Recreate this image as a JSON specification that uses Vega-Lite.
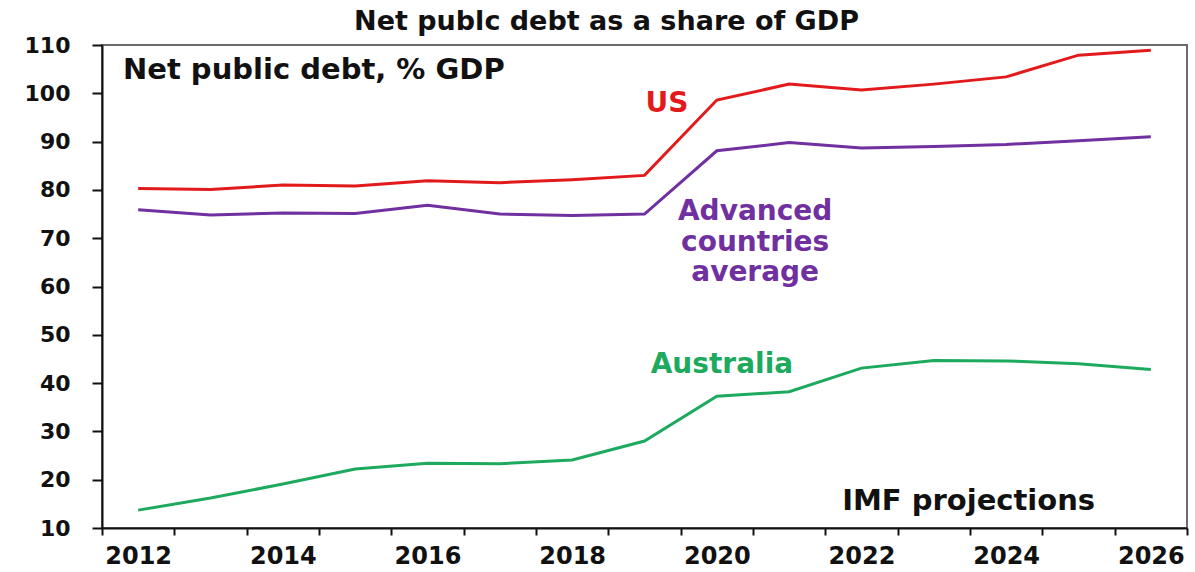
{
  "$schema": "https://vega.github.io/schema/vega-lite/v6.json",
  "width": 1085,
  "height": 483,
  "autosize": {"type": "none"},
  "padding": {"left": 102, "top": 45, "right": 8, "bottom": 44},
  "background": "white",
  "title": {"text": "Net publc debt as a share of GDP", "font": "DejaVu Sans", "fontSize": 27, "fontWeight": "bold", "color": "#111111", "anchor": "middle", "dx": -38, "offset": -2},
  "config": {
    "view": {"stroke": "#6a6a6a", "strokeWidth": 2},
    "axis": {"grid": false, "title": null, "domainColor": "#111111", "domainWidth": 2, "tickColor": "#111111", "tickWidth": 2, "labelFont": "DejaVu Sans", "labelFontWeight": "bold", "labelFontSize": 22, "labelColor": "#111111"}
  },
  "datasets": {
    "series": [
      {"year": 2012, "series": "US", "value": 80.3},
      {"year": 2013, "series": "US", "value": 80.1},
      {"year": 2014, "series": "US", "value": 81.0},
      {"year": 2015, "series": "US", "value": 80.8},
      {"year": 2016, "series": "US", "value": 81.9},
      {"year": 2017, "series": "US", "value": 81.5},
      {"year": 2018, "series": "US", "value": 82.1},
      {"year": 2019, "series": "US", "value": 83.0},
      {"year": 2020, "series": "US", "value": 98.6},
      {"year": 2021, "series": "US", "value": 101.9},
      {"year": 2022, "series": "US", "value": 100.7},
      {"year": 2023, "series": "US", "value": 101.9},
      {"year": 2024, "series": "US", "value": 103.4},
      {"year": 2025, "series": "US", "value": 107.9},
      {"year": 2026, "series": "US", "value": 108.9},
      {"year": 2012, "series": "Advanced", "value": 75.9},
      {"year": 2013, "series": "Advanced", "value": 74.8},
      {"year": 2014, "series": "Advanced", "value": 75.2},
      {"year": 2015, "series": "Advanced", "value": 75.1},
      {"year": 2016, "series": "Advanced", "value": 76.8},
      {"year": 2017, "series": "Advanced", "value": 75.0},
      {"year": 2018, "series": "Advanced", "value": 74.7},
      {"year": 2019, "series": "Advanced", "value": 75.0},
      {"year": 2020, "series": "Advanced", "value": 88.1},
      {"year": 2021, "series": "Advanced", "value": 89.8},
      {"year": 2022, "series": "Advanced", "value": 88.7},
      {"year": 2023, "series": "Advanced", "value": 89.0},
      {"year": 2024, "series": "Advanced", "value": 89.4},
      {"year": 2025, "series": "Advanced", "value": 90.2},
      {"year": 2026, "series": "Advanced", "value": 91.0},
      {"year": 2012, "series": "Australia", "value": 13.7},
      {"year": 2013, "series": "Australia", "value": 16.2},
      {"year": 2014, "series": "Australia", "value": 19.1},
      {"year": 2015, "series": "Australia", "value": 22.2},
      {"year": 2016, "series": "Australia", "value": 23.4},
      {"year": 2017, "series": "Australia", "value": 23.3},
      {"year": 2018, "series": "Australia", "value": 24.1},
      {"year": 2019, "series": "Australia", "value": 28.0},
      {"year": 2020, "series": "Australia", "value": 37.3},
      {"year": 2021, "series": "Australia", "value": 38.2},
      {"year": 2022, "series": "Australia", "value": 43.1},
      {"year": 2023, "series": "Australia", "value": 44.7},
      {"year": 2024, "series": "Australia", "value": 44.6},
      {"year": 2025, "series": "Australia", "value": 44.0},
      {"year": 2026, "series": "Australia", "value": 42.8}
    ],
    "labels": [
      {"label": "US", "series": "US", "year": 2019.31, "value": 97.8},
      {"label": "Advanced", "series": "Advanced", "year": 2020.53, "value": 75.4},
      {"label": "countries", "series": "Advanced", "year": 2020.53, "value": 69.0},
      {"label": "average", "series": "Advanced", "year": 2020.53, "value": 62.8},
      {"label": "Australia", "series": "Australia", "year": 2020.07, "value": 43.75}
    ],
    "notes_left": [
      {"label": "Net public debt, % GDP", "year": 2011.79, "value": 104.8}
    ],
    "notes_right": [
      {"label": "IMF projections", "year": 2025.23, "value": 15.6}
    ]
  },
  "encoding": {
    "x": {
      "field": "year", "type": "quantitative",
      "scale": {"domain": [2011.5, 2026.5], "nice": false, "zero": false},
      "axis": {
        "values": [2011.5, 2012, 2012.5, 2013, 2013.5, 2014, 2014.5, 2015, 2015.5, 2016, 2016.5, 2017, 2017.5, 2018, 2018.5, 2019, 2019.5, 2020, 2020.5, 2021, 2021.5, 2022, 2022.5, 2023, 2023.5, 2024, 2024.5, 2025, 2025.5, 2026, 2026.5],
        "labelExpr": "(abs(datum.value - 2 * round(datum.value / 2)) < 0.01) ? format(datum.value, 'd') : ''",
        "tickOpacity": {"condition": {"test": "abs(datum.value - round(datum.value)) > 0.1", "value": 1}, "value": 0},
        "tickSize": 7,
        "labelOverlap": false,
        "labelBound": false,
        "labelFlush": false,
        "labelFontSize": 24,
        "labelPadding": 9
      }
    },
    "y": {
      "field": "value", "type": "quantitative",
      "scale": {"domain": [10, 110], "nice": false, "zero": false},
      "axis": {"values": [10, 20, 30, 40, 50, 60, 70, 80, 90, 100, 110], "tickSize": 10, "labelPadding": 22}
    }
  },
  "layer": [
    {
      "data": {"name": "series"},
      "mark": {"type": "line", "strokeWidth": 3},
      "encoding": {
        "color": {
          "field": "series", "type": "nominal",
          "scale": {"domain": ["US", "Advanced", "Australia"], "range": ["#e31a1c", "#7030a0", "#1daa5e"]},
          "legend": null
        }
      }
    },
    {
      "data": {"name": "labels"},
      "mark": {"type": "text", "font": "DejaVu Sans", "fontWeight": "bold", "fontSize": 28, "align": "center", "baseline": "middle"},
      "encoding": {
        "text": {"field": "label"},
        "color": {"field": "series", "type": "nominal", "scale": {"domain": ["US", "Advanced", "Australia"], "range": ["#e31a1c", "#7030a0", "#1daa5e"]}, "legend": null}
      }
    },
    {
      "data": {"name": "notes_left"},
      "mark": {"type": "text", "font": "DejaVu Sans", "fontWeight": "bold", "fontSize": 29, "align": "left", "baseline": "middle", "color": "#111111"},
      "encoding": {
        "text": {"field": "label"}
      }
    },
    {
      "data": {"name": "notes_right"},
      "mark": {"type": "text", "font": "DejaVu Sans", "fontWeight": "bold", "fontSize": 29, "align": "right", "baseline": "middle", "color": "#111111"},
      "encoding": {
        "text": {"field": "label"}
      }
    }
  ]
}
